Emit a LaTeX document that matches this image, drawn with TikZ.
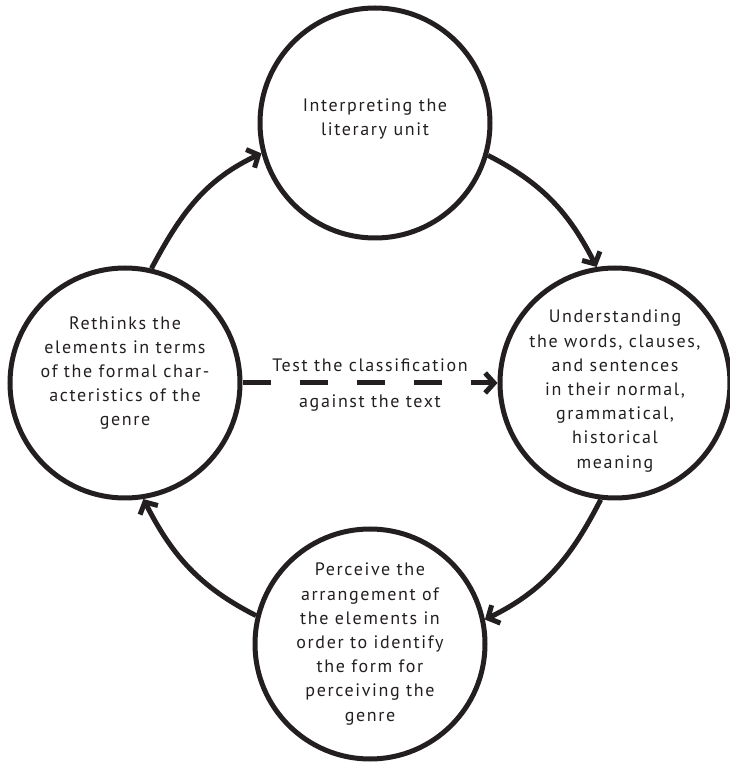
\documentclass[tikz,border=0pt]{standalone}
\usepackage{fontspec}
\setmainfont{PT Sans}[LetterSpace=9]
\usetikzlibrary{arrows.meta}
\definecolor{inkgray}{HTML}{231F20}

\begin{document}
\begin{tikzpicture}[x=1pt,y=1pt,stage/.style={circle, draw=inkgray, line width=5pt, minimum size=230pt, inner sep=0pt},lbl/.style={text=inkgray, inner sep=0pt, align=center, font=\fontsize{18}{24.2}\selectfont}, cyc/.style={line width=5pt, draw=inkgray, -{Straight Barb[length=9pt,width=20pt]}}]
  \useasboundingbox (0,0) rectangle (730,764);
  \node[stage, label={[lbl, yshift=4pt]center:Interpreting the\\literary unit}] (top) at (375,641) {};
  \node[stage, label={[lbl, yshift=-8pt]center:Understanding\\the words, clauses,\\and sentences\\in their normal,\\grammatical,\\historical\\meaning}] (right) at (615,381) {};
  \node[stage, label={[lbl]center:Perceive the\\arrangement of\\the elements in\\order to identify\\the form for\\perceiving the\\genre}] (bottom) at (370,120) {};
  \node[stage, label={[lbl, yshift=10pt]center:Rethinks the\\elements in terms\\of the formal char-\\acteristics of the\\genre}] (left) at (125,381) {};
  % the cycle
  \draw[cyc] (left.77) to[out=62,in=205] (top.195);
  \draw[cyc] (top.344) to[out=-27,in=117] (right.99);
  \draw[cyc] (right.263) to[out=243,in=26] (bottom.12);
  \draw[cyc] (bottom.166) to[out=153,in=297] (left.279);
  % test against the text
  \draw[cyc, dash pattern=on 28pt off 29pt] (left) -- (right)
    node[lbl, midway, above=9pt] {Test the classification}
    node[lbl, midway, below=9pt] {against the text};
\end{tikzpicture}
\end{document}
